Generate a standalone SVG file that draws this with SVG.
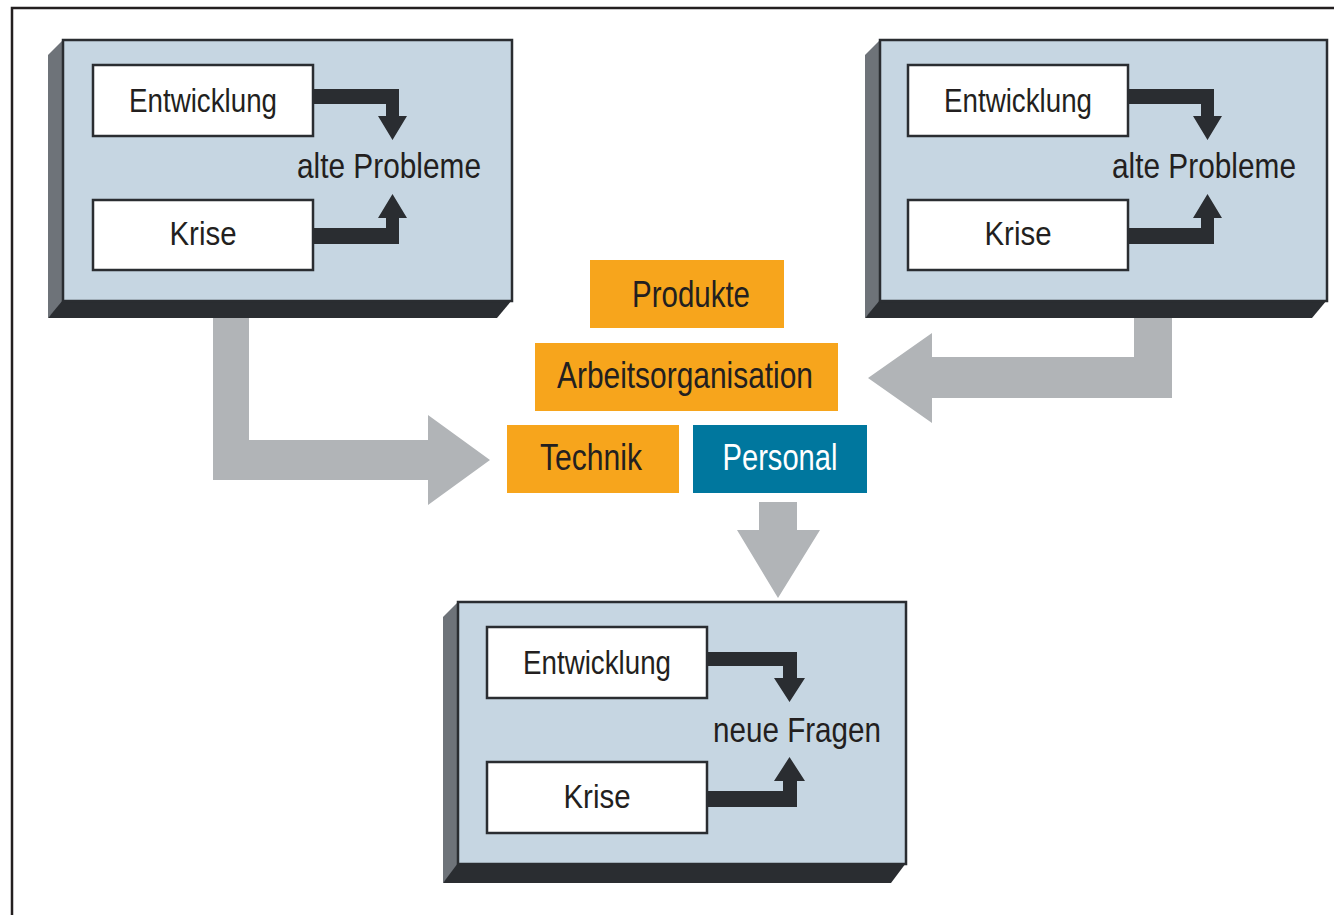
<svg xmlns="http://www.w3.org/2000/svg" width="1334" height="915" viewBox="0 0 1334 915">
<style>
.face{fill:#c6d6e2;stroke:#2a2d31;stroke-width:2.5}
.side{fill:#6e7379}
.bottom{fill:#2a2d31}
.wbox{fill:#ffffff;stroke:#2a2d31;stroke-width:2.5}
.obox{fill:#f7a51c}
.tbox{fill:#00779e}
.garr{fill:#b1b4b7}
.barr{fill:#2a2d31}
text{font-family:"Liberation Sans",Arial,sans-serif;fill:#231f20}
.t1{font-size:34px;text-anchor:middle}
.t2{font-size:35px}
.t3{font-size:37px;text-anchor:middle}
.white{fill:#ffffff}
</style>
<rect width="1334" height="915" fill="#ffffff"/>
<g id="frame" fill="none" stroke="#231f20" stroke-width="2.5">
<path d="M12,915 V8 H1334"/>
</g>

<g id="box-left">
<polygon class="side" points="63,40 48,55 48,318 63,303"/>
<polygon class="bottom" points="63,300 512,300 497,318 48,318"/>
<rect class="face" x="63" y="40" width="449" height="261"/>
<g id="left-entwicklung"><rect class="wbox" x="93" y="65" width="220" height="71"/><text class="t1" x="203" y="112" textLength="148" lengthAdjust="spacingAndGlyphs">Entwicklung</text></g>
<g id="left-krise"><rect class="wbox" x="93" y="200" width="220" height="70"/><text class="t1" x="203" y="245" textLength="67" lengthAdjust="spacingAndGlyphs">Krise</text></g>
<text class="t2" x="297" y="178" textLength="184" lengthAdjust="spacingAndGlyphs">alte Probleme</text>
</g>

<g id="box-right">
<polygon class="side" points="880,40 865,55 865,318 880,303"/>
<polygon class="bottom" points="880,300 1327,300 1312,318 865,318"/>
<rect class="face" x="880" y="40" width="447" height="261"/>
<g id="right-entwicklung"><rect class="wbox" x="908" y="65" width="220" height="71"/><text class="t1" x="1018" y="112" textLength="148" lengthAdjust="spacingAndGlyphs">Entwicklung</text></g>
<g id="right-krise"><rect class="wbox" x="908" y="200" width="220" height="70"/><text class="t1" x="1018" y="245" textLength="67" lengthAdjust="spacingAndGlyphs">Krise</text></g>
<text class="t2" x="1112" y="178" textLength="184" lengthAdjust="spacingAndGlyphs">alte Probleme</text>
</g>

<g id="box-bottom">
<polygon class="side" points="458,602 443,617 443,883 458,868"/>
<polygon class="bottom" points="458,863 906,863 891,883 443,883"/>
<rect class="face" x="458" y="602" width="448" height="262"/>
<g id="bottom-entwicklung"><rect class="wbox" x="487" y="627" width="220" height="71"/><text class="t1" x="597" y="674" textLength="148" lengthAdjust="spacingAndGlyphs">Entwicklung</text></g>
<g id="bottom-krise"><rect class="wbox" x="487" y="762" width="220" height="71"/><text class="t1" x="597" y="808" textLength="67" lengthAdjust="spacingAndGlyphs">Krise</text></g>
<text class="t2" x="713" y="742" textLength="168" lengthAdjust="spacingAndGlyphs">neue Fragen</text>
</g>

<g id="produkte"><rect class="obox" x="590" y="260" width="194" height="68"/><text class="t3" x="691" y="307" textLength="118" lengthAdjust="spacingAndGlyphs">Produkte</text></g>
<g id="arbeitsorganisation"><rect class="obox" x="535" y="343" width="303" height="68"/><text class="t3" x="685" y="388" textLength="256" lengthAdjust="spacingAndGlyphs">Arbeitsorganisation</text></g>
<g id="technik"><rect class="obox" x="507" y="425" width="172" height="68"/><text class="t3" x="591" y="470" textLength="102" lengthAdjust="spacingAndGlyphs">Technik</text></g>
<g id="personal"><rect class="tbox" x="693" y="425" width="174" height="68"/><text class="t3 white" x="780" y="470" textLength="115" lengthAdjust="spacingAndGlyphs">Personal</text></g>

<g id="connectors">
<polygon class="garr" points="213,318 249,318 249,440 428,440 428,415 490,460 428,505 428,480 213,480"/>
<polygon class="garr" points="1172,318 1134,318 1134,357 932,357 932,333 868,378 932,423 932,398 1172,398"/>
<polygon class="garr" points="759,502 797,502 797,530 820,530 778,598 737,530 759,530"/>
<path class="barr" d="M313,89 H399 V116 H407 L392.5,140 L378,116 H386 V104 H313 Z"/>
<path class="barr" d="M313,244 H399 V218 H407 L392.5,194 L378,218 H386 V228 H313 Z"/>
<path class="barr" d="M1128,89 H1214 V116 H1222 L1207.5,140 L1193,116 H1201 V104 H1128 Z"/>
<path class="barr" d="M1128,244 H1214 V218 H1222 L1207.5,194 L1193,218 H1201 V228 H1128 Z"/>
<path class="barr" d="M707,652 H797 V678 H805 L789.5,702 L774,678 H783 V666 H707 Z"/>
<path class="barr" d="M707,807 H797 V781 H805 L789.5,757 L774,781 H783 V791 H707 Z"/>
</g>
</svg>
